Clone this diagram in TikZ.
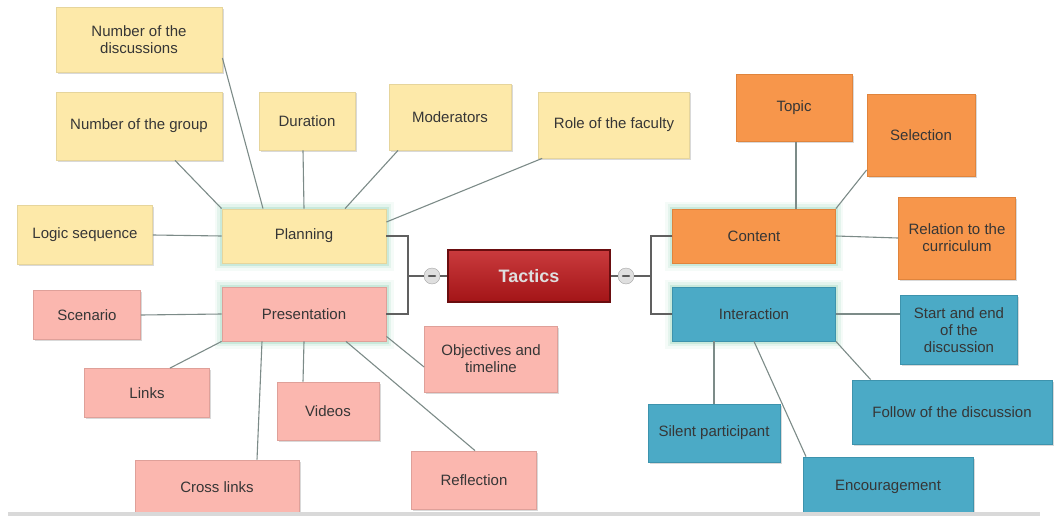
\documentclass[tikz,border=0pt]{standalone}
\usepackage{fontspec}
\setmainfont{Liberation Sans}
\usetikzlibrary{shadows}

\definecolor{yellowfill}{HTML}{FDE9A9}
\definecolor{yellowdraw}{HTML}{E6D59C}
\definecolor{pinkfill}{HTML}{FBB7AF}
\definecolor{pinkdraw}{HTML}{DFA099}
\definecolor{orangefill}{HTML}{F7964B}
\definecolor{orangedraw}{HTML}{E0843C}
\definecolor{bluefill}{HTML}{4BAAC6}
\definecolor{bluedraw}{HTML}{3D93AD}
\definecolor{edgec}{HTML}{7C8B88}
\definecolor{textc}{HTML}{363636}
\definecolor{glowc}{HTML}{A9DCC6}
\definecolor{tacticsc}{HTML}{C0181B}

\tikzset{
    box/.style={rectangle, draw, line width=0.8pt, align=center, text=textc,
        font=\fontsize{15}{17}\selectfont, inner sep=2pt},
    leaf/.style={box, drop shadow={shadow xshift=1.5pt, shadow yshift=-1.5pt, opacity=0.3}},
    glow/.style={preaction={draw=glowc, line width=15pt, opacity=0.12},
        preaction={draw=glowc, line width=10pt, opacity=0.22},
        preaction={draw=glowc, line width=5pt, opacity=0.45}},
    yellowbox/.style={fill=yellowfill, draw=yellowdraw},
    pinkbox/.style={fill=pinkfill, draw=pinkdraw},
    orangebox/.style={fill=orangefill, draw=orangedraw},
    bluebox/.style={fill=bluefill, draw=bluedraw},
    minus/.style={circle, draw=gray!70, fill=gray!25, minimum size=16pt, inner sep=0pt,
        path picture={\draw[line width=2.5pt, black!65, line cap=round]
            ([xshift=-3pt]path picture bounding box.center) --
            ([xshift=3pt]path picture bounding box.center);}},
    link/.style={draw=edgec, line width=1.1pt}
}

\begin{document}
\begin{tikzpicture}[x=1pt, y=-1pt]
    \useasboundingbox (0,0) rectangle (1062,516);

    % Root and main branches
    \node[box, minimum width=162pt, minimum height=52pt, draw=tacticsc!55!black, line width=1.2pt,
        top color=tacticsc!85!white, bottom color=tacticsc!85!black, text=gray!25,
        font=\fontsize{18}{21}\selectfont\bfseries] (tactics) at (529,276) {Tactics};
    \node[minus] (lminus) at (432,276) {};
    \node[minus] (rminus) at (626,276) {};
    \node[box, glow, yellowbox, minimum width=164pt, minimum height=54pt] (planning) at (304,236) {Planning};
    \node[box, glow, pinkbox, minimum width=164pt, minimum height=54pt] (presentation) at (304,314) {Presentation};
    \node[box, glow, orangebox, minimum width=163pt, minimum height=54pt] (content) at (754,236) {Content};
    \node[box, glow, bluebox, minimum width=163pt, minimum height=54pt] (interaction) at (754,314) {Interaction};

    % Planning leaves
    \node[leaf, yellowbox, minimum width=166pt, minimum height=65pt] (numdisc) at (139,40) {Number of the\\discussions};
    \node[leaf, yellowbox, minimum width=166pt, minimum height=68pt] (numgroup) at (139,126) {Number of the group};
    \node[leaf, yellowbox, minimum width=96pt, minimum height=58pt] (duration) at (307,121) {Duration};
    \node[leaf, yellowbox, minimum width=122pt, minimum height=66pt] (moderators) at (450,117) {Moderators};
    \node[leaf, yellowbox, minimum width=151pt, minimum height=66pt] (role) at (614,125) {Role of the faculty};
    \node[leaf, yellowbox, minimum width=135pt, minimum height=59pt] (logic) at (85,235) {Logic sequence};

    % Presentation leaves
    \node[leaf, pinkbox, minimum width=107pt, minimum height=49pt] (scenario) at (87,315) {Scenario};
    \node[leaf, pinkbox, minimum width=125pt, minimum height=49pt] (links) at (147,393) {Links};
    \node[leaf, pinkbox, minimum width=102pt, minimum height=58pt] (videos) at (328,411) {Videos};
    \node[leaf, pinkbox, minimum width=133pt, minimum height=66pt] (objectives) at (491,359) {Objectives and\\timeline};
    \node[leaf, pinkbox, minimum width=164pt, minimum height=54pt] (crosslinks) at (217,487) {Cross links};
    \node[leaf, pinkbox, minimum width=125pt, minimum height=58pt] (reflection) at (474,480) {Reflection};

    % Content leaves
    \node[leaf, orangebox, minimum width=116pt, minimum height=67pt] (topic) at (794,108) {Topic};
    \node[leaf, orangebox, minimum width=108pt, minimum height=82pt] (selection) at (921,135) {Selection};
    \node[leaf, orangebox, minimum width=117pt, minimum height=82pt] (relation) at (957,238) {Relation to the\\curriculum};

    % Interaction leaves
    \node[leaf, bluebox, minimum width=117pt, minimum height=69pt] (startend) at (959,330) {Start and end\\of the\\discussion};
    \node[leaf, bluebox, minimum width=200pt, minimum height=64pt] (follow) at (952,412) {Follow of the discussion};
    \node[leaf, bluebox, minimum width=132pt, minimum height=58pt] (silent) at (714,433) {Silent participant};
    \node[leaf, bluebox, minimum width=170pt, minimum height=60pt] (encour) at (888,487) {Encouragement};

    % Brackets round the root
    \coordinate (lbr) at (408,276);
    \coordinate (rbr) at (651,276);
    \draw[link, draw=gray!75!black] (planning.east) -| (lbr) |- (presentation.east);
    \draw[link, draw=gray!75!black] (lbr) -- (lminus) -- (tactics.west);
    \draw[link, draw=gray!75!black] (content.west) -| (rbr) |- (interaction.west);
    \draw[link, draw=gray!75!black] (rbr) -- (rminus) -- (tactics.east);

    % Planning edges
    \draw[link] ([yshift=-18pt]numdisc.east) -- ([xshift=-41pt]planning.north);
    \draw[link] ([xshift=36pt]numgroup.south) -- (planning.north west);
    \draw[link] ([xshift=-4pt]duration.south) -- (planning.north);
    \draw[link] ([xshift=-52pt]moderators.south) -- ([xshift=41pt]planning.north);
    \draw[link] ([xshift=4pt]role.south west) -- ([yshift=14pt]planning.east);
    \draw[link] (logic.east) -- (planning.west);

    % Presentation edges
    \draw[link] (scenario.east) -- (presentation.west);
    \draw[link] ([xshift=23pt]links.north) -- (presentation.south west);
    \draw[link] ([xshift=-25pt]videos.north) -- (presentation.south);
    \draw[link] ([xshift=40pt]crosslinks.north) -- ([xshift=-42pt]presentation.south);
    \draw[link] ([xshift=1pt]reflection.north) -- ([xshift=42pt]presentation.south);
    \draw[link] ([yshift=-8pt]objectives.west) -- ([yshift=5pt]presentation.south east);

    % Content edges
    \draw[link] ([xshift=2pt]topic.south) -- ([xshift=42pt]content.north);
    \draw[link] ([yshift=-35pt]selection.west) -- (content.north east);
    \draw[link] (relation.west) -- (content.east);

    % Interaction edges
    \draw[link] ([yshift=16pt]startend.west) -- (interaction.east);
    \draw[link] ([xshift=19pt]follow.north west) -- (interaction.south east);
    \draw[link] (silent.north) -- ([xshift=-40pt]interaction.south);
    \draw[link] ([xshift=-82pt]encour.north) -- (interaction.south);

    % Bottom rule
    \fill[gray!30] (8,512) rectangle (1040,516);
\end{tikzpicture}
\end{document}
